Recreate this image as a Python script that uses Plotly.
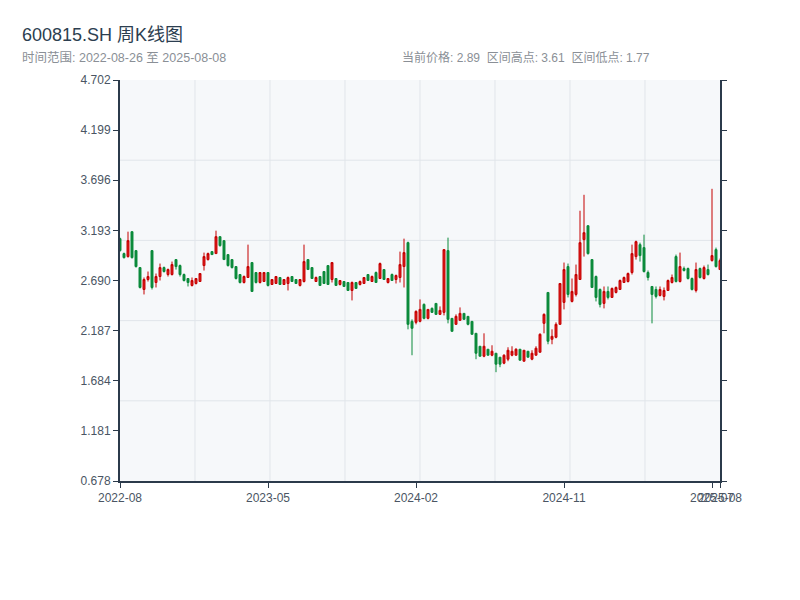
import pandas as pd
import plotly.graph_objects as go

# ---- data ----
holiday_weeks = ["2022-10-07", "2023-01-27", "2023-10-06", "2024-02-16"]
fridays = pd.date_range("2022-08-26", "2025-08-08", freq="W-FRI")
dates = [d.strftime("%Y-%m-%d") for d in fridays if d.strftime("%Y-%m-%d") not in holiday_weeks]

opens = [
    3.11, 2.96, 2.93, 3.18, 2.99, 2.82, 2.60, 2.70, 2.99, 2.67,
    2.73, 2.82, 2.75, 2.75, 2.90, 2.84, 2.75, 2.71, 2.64, 2.66,
    2.68, 2.84, 2.90, 2.98, 2.96, 3.13, 3.09, 2.95, 2.90, 2.83,
    2.75, 2.67, 2.72, 2.87, 2.77, 2.67, 2.68, 2.77, 2.65, 2.66,
    2.72, 2.65, 2.66, 2.73, 2.70, 2.64, 2.68, 2.90, 2.82, 2.68,
    2.73, 2.78, 2.84, 2.70, 2.71, 2.65, 2.68, 2.67, 2.59, 2.67,
    2.65, 2.66, 2.75, 2.68, 2.77, 2.71, 2.80, 2.67, 2.75, 2.70,
    2.72, 2.83, 3.07, 2.28, 2.27, 2.28, 2.45, 2.31, 2.41, 2.46,
    2.35, 2.37, 2.99, 2.31, 2.25, 2.29, 2.36, 2.33, 2.28, 2.16,
    2.03, 1.93, 2.00, 1.94, 1.96, 1.92, 1.86, 1.90, 1.94, 1.94,
    2.00, 1.88, 1.98, 1.90, 1.94, 1.97, 2.26, 2.57, 2.10, 2.12,
    2.25, 2.47, 2.83, 2.48, 2.55, 2.70, 3.10, 3.24, 2.90, 2.73,
    2.60, 2.46, 2.58, 2.52, 2.57, 2.60, 2.67, 2.68, 2.77, 2.93,
    3.05, 3.02, 2.77, 2.63, 2.60, 2.54, 2.53, 2.59, 2.67, 2.93,
    2.68, 2.81, 2.81, 2.71, 2.59, 2.81, 2.71, 2.80, 2.89, 3.00,
    2.80,
]
highs = [
    3.12, 2.97, 3.18, 3.18, 2.99, 2.82, 2.72, 2.78, 2.99, 2.76,
    2.86, 2.83, 2.81, 2.88, 2.90, 2.85, 2.76, 2.71, 2.72, 2.71,
    2.76, 2.97, 2.97, 2.98, 3.19, 3.13, 3.09, 2.95, 2.90, 2.83,
    2.75, 2.74, 3.05, 2.87, 2.77, 2.77, 2.77, 2.77, 2.70, 2.73,
    2.72, 2.70, 2.73, 2.73, 2.70, 2.70, 3.05, 2.90, 2.82, 2.73,
    2.73, 2.78, 2.84, 2.87, 2.71, 2.69, 2.68, 2.67, 2.68, 2.67,
    2.69, 2.72, 2.75, 2.74, 2.78, 2.87, 2.80, 2.71, 2.76, 2.75,
    2.98, 3.11, 3.08, 2.30, 2.39, 2.50, 2.46, 2.40, 2.42, 2.46,
    2.43, 3.00, 3.12, 2.31, 2.35, 2.42, 2.36, 2.33, 2.28, 2.16,
    2.03, 2.16, 2.00, 2.04, 1.96, 1.92, 1.95, 2.02, 2.03, 2.01,
    2.00, 1.99, 1.98, 1.99, 2.03, 2.16, 2.36, 2.57, 2.20, 2.27,
    2.66, 2.87, 2.86, 2.71, 2.85, 3.39, 3.55, 3.24, 2.90, 2.74,
    2.61, 2.63, 2.63, 2.62, 2.63, 2.70, 2.73, 2.77, 3.05, 3.09,
    3.07, 3.15, 2.79, 2.63, 2.63, 2.63, 2.62, 2.70, 2.75, 2.95,
    2.97, 2.83, 2.82, 2.72, 2.87, 2.82, 2.84, 2.85, 3.61, 3.02,
    2.91,
]
lows = [
    2.98, 2.91, 2.92, 2.91, 2.82, 2.61, 2.55, 2.68, 2.60, 2.62,
    2.69, 2.77, 2.73, 2.74, 2.80, 2.73, 2.68, 2.63, 2.63, 2.65,
    2.68, 2.79, 2.89, 2.95, 2.96, 3.03, 2.90, 2.83, 2.81, 2.70,
    2.66, 2.66, 2.72, 2.58, 2.66, 2.66, 2.68, 2.63, 2.65, 2.66,
    2.65, 2.65, 2.59, 2.68, 2.66, 2.63, 2.67, 2.80, 2.71, 2.68,
    2.64, 2.66, 2.65, 2.67, 2.64, 2.64, 2.63, 2.59, 2.49, 2.61,
    2.64, 2.66, 2.69, 2.68, 2.67, 2.71, 2.70, 2.66, 2.69, 2.66,
    2.67, 2.62, 2.20, 1.94, 2.25, 2.27, 2.30, 2.30, 2.37, 2.35,
    2.35, 2.34, 2.26, 2.18, 2.25, 2.29, 2.30, 2.24, 2.15, 1.90,
    1.93, 1.92, 1.94, 1.93, 1.77, 1.82, 1.85, 1.88, 1.93, 1.94,
    1.89, 1.88, 1.92, 1.89, 1.94, 1.97, 2.16, 2.05, 2.05, 2.11,
    2.25, 2.40, 2.52, 2.47, 2.53, 2.70, 2.93, 2.95, 2.62, 2.48,
    2.42, 2.41, 2.50, 2.52, 2.56, 2.60, 2.67, 2.67, 2.75, 2.90,
    2.88, 2.77, 2.69, 2.26, 2.51, 2.53, 2.49, 2.59, 2.66, 2.67,
    2.67, 2.78, 2.70, 2.59, 2.57, 2.71, 2.70, 2.74, 2.88, 2.82,
    2.80,
]
closes = [
    2.99, 2.92, 3.09, 2.92, 2.83, 2.62, 2.70, 2.73, 2.62, 2.73,
    2.82, 2.78, 2.80, 2.85, 2.83, 2.75, 2.69, 2.67, 2.69, 2.71,
    2.76, 2.93, 2.96, 2.95, 3.13, 3.04, 2.90, 2.84, 2.82, 2.71,
    2.67, 2.73, 2.83, 2.58, 2.67, 2.77, 2.77, 2.64, 2.70, 2.73,
    2.65, 2.70, 2.72, 2.68, 2.66, 2.70, 2.88, 2.80, 2.71, 2.72,
    2.64, 2.66, 2.65, 2.87, 2.64, 2.69, 2.63, 2.59, 2.67, 2.61,
    2.68, 2.72, 2.69, 2.73, 2.67, 2.86, 2.70, 2.71, 2.69, 2.74,
    2.85, 2.97, 2.25, 2.21, 2.38, 2.40, 2.31, 2.40, 2.37, 2.35,
    2.39, 3.00, 2.30, 2.18, 2.33, 2.36, 2.30, 2.25, 2.15, 1.96,
    1.93, 2.03, 1.94, 1.98, 1.85, 1.85, 1.94, 1.99, 1.98, 2.00,
    1.89, 1.99, 1.92, 1.96, 2.01, 2.15, 2.35, 2.08, 2.13, 2.25,
    2.66, 2.80, 2.55, 2.58, 2.75, 3.07, 3.17, 2.96, 2.62, 2.52,
    2.45, 2.58, 2.52, 2.61, 2.62, 2.69, 2.72, 2.76, 2.96, 3.08,
    2.94, 2.78, 2.72, 2.55, 2.53, 2.60, 2.59, 2.69, 2.72, 2.68,
    2.83, 2.79, 2.71, 2.60, 2.80, 2.72, 2.82, 2.75, 2.94, 2.83,
    2.89,
]

y_ticks = [0.678, 1.181, 1.684, 2.187, 2.690, 3.193, 3.696, 4.199, 4.702]
y_tick_labels = ["0.678", "1.181", "1.684", "2.187", "2.690", "3.193", "3.696", "4.199", "4.702"]
x_tick_index = [0, 37, 74, 111, 148, 150]
x_tick_labels = ["2022-08", "2023-05", "2024-02", "2024-11", "2025-07", "2025-08"]

title_text = "600815.SH 周K线图"
sub_left = "时间范围: 2022-08-26 至 2025-08-08"
sub_right = "当前价格: 2.89  区间高点: 3.61  区间低点: 1.77"

# ---- styling ----
FONT = "Liberation Sans, Arial, Noto Sans CJK SC, sans-serif"
AXIS = "#2b3a4b"
GRID = "#e1e5ea"
RED_LINE = "#c40000"
RED_FILL = "#df1a1a"
GREEN = "#0a8a3a"
TICK_FONT = dict(size=12, color="#4a5563")

fig = go.Figure(go.Candlestick(
    x=dates, open=opens, high=highs, low=lows, close=closes,
    increasing=dict(line=dict(color=RED_LINE, width=1), fillcolor=RED_FILL),
    decreasing=dict(line=dict(color=GREEN, width=1), fillcolor=GREEN),
    whiskerwidth=0,
    showlegend=False,
))

shapes = []
for k in range(1, 8):
    shapes.append(dict(type="line", xref="x domain", yref="y domain",
                       x0=k / 8, x1=k / 8, y0=0, y1=1,
                       line=dict(color=GRID, width=1), layer="below"))
for k in range(1, 5):
    shapes.append(dict(type="line", xref="x domain", yref="y domain",
                       x0=0, x1=1, y0=k / 5, y1=k / 5,
                       line=dict(color=GRID, width=1), layer="below"))

# page body has an 8px margin: plot area is placed at 120..720 x 80..481 of the window
fig.update_layout(
    width=800, height=600,
    margin=dict(l=112, r=88, t=72, b=127),
    paper_bgcolor="white",
    plot_bgcolor="#f6f8fa",
    font=dict(family=FONT, size=12, color="#4a5563"),
    shapes=shapes,
    hovermode="x",
    annotations=[
        dict(text=title_text, xref="paper", yref="paper", x=-0.1667, y=1.112,
             xanchor="left", yanchor="middle", showarrow=False,
             font=dict(size=18, color="#2c3e50", family=FONT)),
        dict(text=sub_left, xref="paper", yref="paper", x=-0.1667, y=1.055,
             xanchor="left", yanchor="middle", showarrow=False,
             font=dict(size=12.5, color="#8a8f96", family=FONT)),
        dict(text=sub_right, xref="paper", yref="paper", x=0.4667, y=1.055,
             xanchor="left", yanchor="middle", showarrow=False,
             font=dict(size=12, color="#8a8f96", family=FONT)),
    ],
)

fig.update_xaxes(
    type="category",
    range=[0, len(dates) - 1],
    rangeslider=dict(visible=False),
    tickmode="array",
    tickvals=[dates[i] for i in x_tick_index],
    ticktext=x_tick_labels,
    tickangle=0,
    showgrid=False,
    zeroline=False,
    showline=True, linecolor=AXIS, linewidth=2,
    ticks="outside", ticklen=5, tickcolor=AXIS, tickwidth=1,
    tickfont=TICK_FONT,
)
fig.update_yaxes(
    range=[y_ticks[0], y_ticks[-1]],
    tickmode="array",
    tickvals=y_ticks,
    ticktext=y_tick_labels,
    showgrid=False,
    zeroline=False,
    showline=True, linecolor=AXIS, linewidth=2, mirror="ticks",
    ticks="outside", ticklen=5, tickcolor=AXIS, tickwidth=1,
    tickfont=TICK_FONT,
)

fig.write_html("out.html")
